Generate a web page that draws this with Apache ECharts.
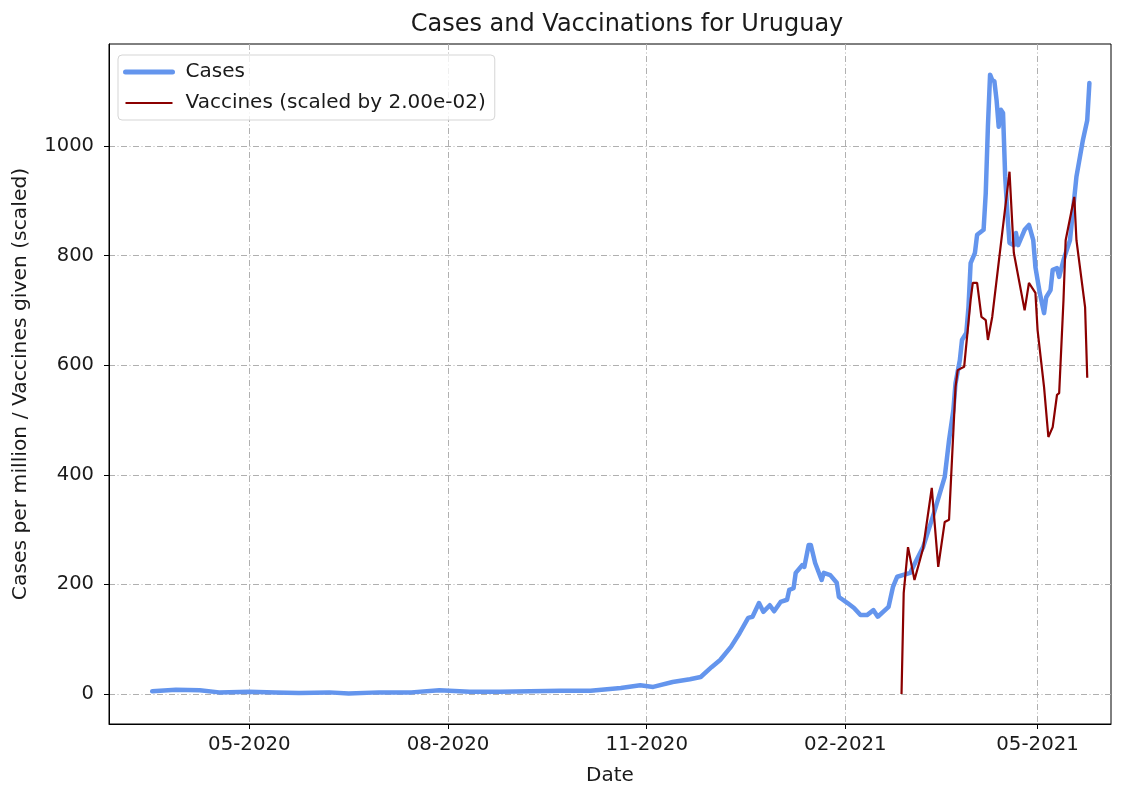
<!DOCTYPE html>
<html><head><meta charset="utf-8">
<script src="https://cdn.jsdelivr.net/npm/echarts@6/dist/echarts.min.js"></script>
<style>html,body{margin:0;padding:0;background:#fff}#c{width:1125px;height:785px}</style>
</head><body><div id="c"></div><script>
const caseDates = ['2020-03-17','2020-03-28','2020-04-08','2020-04-17','2020-05-01','2020-05-13','2020-05-24','2020-06-07','2020-06-16','2020-06-30','2020-07-15','2020-07-28','2020-08-11','2020-08-25','2020-09-08','2020-09-22','2020-10-06','2020-10-20','2020-10-29','2020-11-04','2020-11-13','2020-11-21','2020-11-26','2020-12-01','2020-12-05','2020-12-10','2020-12-14','2020-12-18','2020-12-20','2020-12-23','2020-12-25','2020-12-28','2020-12-30','2021-01-02','2021-01-05','2021-01-06','2021-01-08','2021-01-09','2021-01-12','2021-01-13','2021-01-15','2021-01-16','2021-01-18','2021-01-21','2021-01-22','2021-01-25','2021-01-28','2021-01-29','2021-02-02','2021-02-05','2021-02-08','2021-02-11','2021-02-14','2021-02-16','2021-02-21','2021-02-23','2021-02-25','2021-03-03','2021-03-06','2021-03-09','2021-03-14','2021-03-19','2021-03-21','2021-03-23','2021-03-24','2021-03-26','2021-03-27','2021-03-29','2021-03-30','2021-03-31','2021-04-02','2021-04-03','2021-04-06','2021-04-07','2021-04-08','2021-04-09','2021-04-10','2021-04-11','2021-04-12','2021-04-13','2021-04-14','2021-04-15','2021-04-16','2021-04-17','2021-04-18','2021-04-20','2021-04-21','2021-04-22','2021-04-25','2021-04-27','2021-04-29','2021-04-30','2021-05-02','2021-05-04','2021-05-05','2021-05-07','2021-05-08','2021-05-10','2021-05-11','2021-05-13','2021-05-16','2021-05-19','2021-05-22','2021-05-24','2021-05-25'];
const caseValues = [5,8,7,3,4,3,2,3,1,3,3,7,4,4,5,6,6,11,16,13,22,27,31,49,62,86,111,139,141,166,150,162,151,168,172,190,193,221,235,232,272,272,239,208,221,217,203,177,166,157,144,144,153,141,159,195,214,221,245,268,330,396,463,518,567,609,646,659,706,786,805,838,847,914,1035,1130,1120,1118,1084,1035,1066,1060,944,878,823,819,841,819,847,856,828,779,732,695,724,737,774,777,761,792,828,944,1011,1047,1115];
const vaccineDates = ['2021-02-27','2021-02-28','2021-03-02','2021-03-05','2021-03-09','2021-03-13','2021-03-16','2021-03-19','2021-03-21','2021-03-24','2021-03-25','2021-03-28','2021-03-31','2021-04-01','2021-04-03','2021-04-05','2021-04-07','2021-04-08','2021-04-10','2021-04-18','2021-04-20','2021-04-25','2021-04-27','2021-04-30','2021-05-01','2021-05-04','2021-05-06','2021-05-08','2021-05-10','2021-05-11','2021-05-13','2021-05-14','2021-05-18','2021-05-19','2021-05-23','2021-05-24'];
const vaccineValuesScaled = [0,184,268,208,266,376,232,314,318,560,591,597,719,750,750,688,682,646,688,953,805,700,750,732,664,560,469,487,546,549,719,828,907,828,706,577];
const xTickDates = ['2020-05-01','2020-08-01','2020-11-01','2021-02-01','2021-05-01'];
const yTickValues = [0,200,400,600,800,1000];

const ts = s => new Date(s + 'T00:00:00').getTime();
const pad = n => (n < 10 ? '0' : '') + n;
const fmt = v => { const d = new Date(v); return pad(d.getMonth() + 1) + '-' + d.getFullYear(); };
const FONT = 'DejaVu Sans';
const gridLine = { show: true, lineStyle: { color: '#b0b0b0', width: 1, type: [6, 2.5, 1, 2.5] } };

const chart = echarts.init(document.getElementById('c'), null, { renderer: 'canvas' });
chart.setOption({
  animation: false,
  backgroundColor: '#fff',
  title: { text: 'Cases and Vaccinations for Uruguay', left: 622, top: 8, textAlign: 'center',
    textStyle: { fontFamily: FONT, fontSize: 24, fontWeight: 'normal', color: '#1a1a1a' } },
  legend: {
    left: 118, top: 55, orient: 'vertical', itemWidth: 47, itemHeight: 14, itemGap: 11,
    padding: [7, 9, 7, 5], borderColor: '#d5d5d5', borderWidth: 1, borderRadius: 4, backgroundColor: 'rgba(255,255,255,0.8)',
    itemStyle: { opacity: 0 },
    textStyle: { fontFamily: FONT, fontSize: 20, color: '#1a1a1a', padding: [0, 0, 0, 8] },
    data: [{ name: 'Cases', lineStyle: { width: 5 } }, { name: 'Vaccines (scaled by 2.00e-02)', lineStyle: { width: 2.2 } }]
  },
  grid: { left: 109, right: 14, top: 44, bottom: 61, outerBoundsMode: 'none', containLabel: false,
    show: true, borderColor: '#000', borderWidth: 1, backgroundColor: 'transparent' },
  xAxis: {
    type: 'value', min: ts('2020-02-26'), max: ts('2021-06-04'),
    name: 'Date', nameLocation: 'middle', nameGap: 42,
    nameTextStyle: { fontFamily: FONT, fontSize: 20, color: '#1a1a1a' },
    axisLine: { show: true, onZero: false, lineStyle: { color: '#000' } },
    axisTick: { show: true, length: 5, lineStyle: { color: '#000' }, customValues: xTickDates.map(ts) },
    axisLabel: { fontFamily: FONT, fontSize: 19.8, color: '#1a1a1a', margin: 11, formatter: v => fmt(v), customValues: xTickDates.map(ts) },
    splitLine: gridLine
  },
  yAxis: {
    type: 'value', min: -54.7, max: 1186,
    name: 'Cases per million / Vaccines given (scaled)', nameLocation: 'middle', nameGap: 78,
    nameTextStyle: { fontFamily: FONT, fontSize: 20.3, color: '#1a1a1a' },
    axisLine: { show: true, onZero: false, lineStyle: { color: '#000' } },
    axisTick: { show: true, length: 5, lineStyle: { color: '#000' }, customValues: yTickValues },
    axisLabel: { fontFamily: FONT, fontSize: 19.5, color: '#1a1a1a', margin: 15, formatter: v => String(v), customValues: yTickValues },
    splitLine: gridLine
  },
  series: [
    { name: 'Cases', type: 'line', symbol: 'none', smooth: false,
      lineStyle: { color: '#6495ED', width: 4.5, join: 'round', cap: 'round' }, itemStyle: { color: '#6495ED' },
      data: caseDates.map((d, i) => [ts(d), caseValues[i]]) },
    { name: 'Vaccines (scaled by 2.00e-02)', type: 'line', symbol: 'none',
      lineStyle: { color: '#8B0000', width: 2.2 }, itemStyle: { color: '#8B0000' },
      data: vaccineDates.map((d, i) => [ts(d), vaccineValuesScaled[i]]) }
  ]
});
</script></body></html>
